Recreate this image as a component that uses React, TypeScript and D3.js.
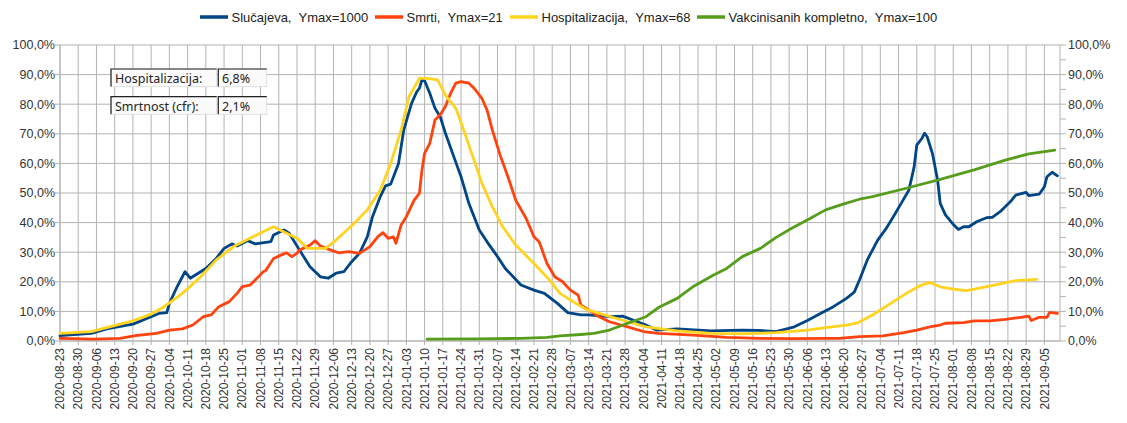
import React from "react";
import * as d3 from "d3";

// ---- data (day offset from 2020-08-23, value in % of Ymax) ----
const START = new Date(Date.UTC(2020, 7, 23));
const TOTAL_DAYS = 384;
const LAST_TICK = new Date(Date.UTC(2021, 8, 5));

const seriesNames = [
  "Slučajeva,  Ymax=1000",
  "Smrti,  Ymax=21",
  "Hospitalizacija,  Ymax=68",
  "Vakcinisanih kompletno,  Ymax=100",
];
const seriesColors = ["#004586", "#ff420e", "#ffd320", "#579d1c"];

const cases: [number, number][] = [
  [0, 1.8], [12, 2.6], [19, 4.3], [28, 5.7], [35, 8.2], [38, 9.3], [41, 9.6], [42, 12.7],
  [45, 18.4], [48, 23.4], [50, 21.2], [54, 23.4], [56, 24.5], [60, 27.9], [63, 31.3],
  [66, 32.8], [68, 32.1], [72, 33.9], [75, 32.8], [81, 33.6], [82, 35.8], [86, 37.5],
  [88, 36.4], [92, 30.7], [96, 25.1], [100, 21.7], [103, 21.2], [106, 22.9], [109, 23.4],
  [112, 26.8], [115, 29.6], [118, 35.2], [120, 42.0], [123, 48.8], [125, 52.4], [127, 53.0],
  [130, 60.0], [132, 71.3], [135, 80.3], [137, 84.2], [138, 85.4], [139, 88.2], [140, 87.9],
  [142, 83.7], [144, 78.6], [146, 75.8], [148, 70.2], [151, 62.8], [154, 55.5], [157, 46.5],
  [161, 37.5], [164, 33.5], [168, 28.5], [171, 24.5], [177, 18.9], [182, 17.2], [186, 16.1],
  [191, 12.7], [195, 9.6], [200, 8.8], [203, 8.8], [211, 8.2], [216, 8.4], [220, 7.1],
  [225, 5.4], [229, 3.7], [237, 4.1], [250, 3.4], [262, 3.7], [268, 3.6], [275, 3.2],
  [282, 4.8], [287, 6.9], [292, 9.3], [297, 11.6], [302, 14.4], [305, 16.5], [307, 20.6],
  [310, 27.4], [314, 34.1], [317, 37.7], [320, 42.0], [323, 46.5], [326, 51.0], [328, 58.9],
  [329, 66.2], [331, 68.5], [332, 70.2], [333, 69.0], [335, 63.4], [337, 54.4], [338, 46.5],
  [340, 42.6], [343, 39.4], [345, 37.7], [347, 38.6], [349, 38.6], [352, 40.3], [356, 41.7],
  [358, 41.8], [361, 43.7], [365, 47.1], [367, 49.3], [371, 50.2], [372, 49.1], [376, 49.6],
  [378, 52.1], [379, 55.5], [381, 57.0], [383, 55.8],
];

const deaths: [number, number][] = [
  [0, 0.9], [13, 0.6], [23, 0.9], [29, 1.8], [37, 2.6], [42, 3.7], [47, 4.1], [51, 5.4],
  [55, 8.2], [58, 8.8], [61, 11.6], [65, 13.3], [68, 16.1], [70, 18.4], [73, 18.9],
  [76, 21.5], [78, 23.4], [79, 23.8], [82, 27.9], [85, 29.1], [87, 29.8], [89, 28.5],
  [91, 29.6], [92, 30.7], [96, 32.4], [98, 33.9], [100, 32.1], [104, 30.7], [107, 29.8],
  [111, 30.2], [115, 29.6], [119, 31.9], [122, 35.2], [124, 36.6], [126, 34.7], [128, 35.2],
  [129, 33.0], [131, 39.2], [133, 42.0], [136, 47.6], [138, 49.9], [139, 57.8], [140, 63.4],
  [142, 66.8], [144, 74.7], [146, 76.4], [148, 79.2], [150, 83.7], [152, 87.1], [154, 87.6],
  [157, 87.1], [159, 85.4], [162, 82.0], [164, 78.0], [166, 71.3], [169, 62.8], [172, 55.5],
  [175, 47.6], [179, 41.4], [182, 35.2], [184, 33.5], [187, 26.2], [190, 21.7], [193, 20.0],
  [196, 17.2], [199, 15.5], [200, 12.2], [203, 10.5], [207, 8.2], [211, 6.5], [218, 4.8],
  [224, 3.2], [230, 2.6], [243, 2.0], [256, 1.2], [269, 0.9], [281, 0.8], [294, 0.9],
  [299, 0.9], [307, 1.5], [316, 1.7], [324, 2.8], [329, 3.7], [334, 4.8], [338, 5.4],
  [340, 6.0], [347, 6.2], [351, 6.8], [357, 6.8], [363, 7.3], [369, 8.0], [372, 8.4],
  [373, 6.9], [376, 8.0], [379, 8.0], [380, 9.7], [383, 9.3],
];

const hospital: [number, number][] = [
  [0, 2.6], [12, 3.2], [19, 4.8], [28, 6.8], [35, 9.1], [40, 11.6], [47, 16.1], [54, 21.7],
  [60, 27.4], [67, 32.1], [73, 34.7], [78, 36.9], [82, 38.6], [87, 36.4], [91, 34.7],
  [95, 31.3], [102, 31.3], [106, 34.1], [113, 39.8], [118, 44.3], [123, 51.0], [127, 60.0],
  [131, 71.3], [134, 82.5], [138, 88.7], [141, 88.7], [145, 88.2], [148, 83.1], [152, 78.6],
  [155, 71.3], [159, 61.1], [162, 53.3], [166, 45.4], [170, 38.6], [175, 32.4], [182, 26.2],
  [188, 20.6], [192, 16.1], [197, 13.3], [202, 10.7], [209, 8.8], [218, 6.5], [225, 4.8],
  [237, 3.4], [250, 2.6], [262, 2.4], [275, 2.8], [287, 3.7], [294, 4.5], [302, 5.4],
  [306, 6.0], [312, 8.8], [319, 12.7], [325, 16.1], [330, 18.6], [334, 19.8], [338, 18.3],
  [343, 17.5], [348, 17.0], [354, 18.0], [361, 19.3], [367, 20.4], [375, 20.8],
];

const vaccinated: [number, number][] = [
  [141, 0.6], [161, 0.7], [177, 0.9], [187, 1.2], [192, 1.7], [200, 2.2], [205, 2.6],
  [211, 3.7], [218, 6.0], [225, 8.2], [230, 11.4], [237, 14.4], [243, 18.3], [251, 22.3],
  [256, 24.5], [262, 28.5], [269, 31.3], [275, 35.0], [281, 38.1], [288, 41.4], [294, 44.3],
  [301, 46.3], [307, 47.9], [312, 48.8], [325, 51.6], [338, 54.6], [351, 57.8], [363, 61.1],
  [372, 63.2], [382, 64.5],
];

const allSeries = [cases, deaths, hospital, vaccinated];

const yTicks = [0, 10, 20, 30, 40, 50, 60, 70, 80, 90, 100];
const yMinorTicks = d3.range(0, 101, 5);

const infoRows: [string, string][] = [
  ["Hospitalizacija:", "6,8%"],
  ["Smrtnost (cfr):", "2,1%"],
];

// ---- layout ----
const W = 1127;
const H = 423;
const L = 60;
const R = 1060;
const T = 45;
const B = 341;
const legendX = [200, 375, 510, 697];

export default function App() {
  const end = d3.utcDay.offset(START, TOTAL_DAYS);
  const x = d3.scaleUtc().domain([START, end]).range([L, R]);
  const y = d3.scaleLinear().domain([0, 100]).range([B, T]);
  const weeks = d3.utcWeek.range(START, d3.utcDay.offset(LAST_TICK, 1));
  const fmt = d3.utcFormat("%Y-%m-%d");
  const line = d3
    .line<[number, number]>()
    .x((d) => x(d3.utcDay.offset(START, d[0])))
    .y((d) => y(d[1]));
  const pctFmt = (v: number) => v.toFixed(1).replace(".", ",") + "%";
  const grid = "#b3b3b3";
  const font = "'Liberation Sans', Arial, sans-serif";

  return (
    <svg
      width={W}
      height={H}
      style={{ position: "absolute", left: 0, top: 0, background: "#fff" }}
      fontFamily={font}
    >
      <rect x={0} y={0} width={W} height={H} fill="#fff" />
      {/* horizontal gridlines */}
      {yTicks.map((t) => (
        <line key={"h" + t} x1={L} x2={R} y1={y(t)} y2={y(t)} stroke={grid} strokeWidth={1} />
      ))}
      {/* vertical gridlines */}
      {weeks.map((d, i) => (
        <line key={"v" + i} x1={x(d)} x2={x(d)} y1={T} y2={B + 4} stroke={grid} strokeWidth={1} />
      ))}
      {/* axes */}
      <line x1={L} x2={L} y1={T} y2={B} stroke={grid} />
      <line x1={R} x2={R} y1={T} y2={B} stroke={grid} />
      <line x1={L} x2={R} y1={B} y2={B} stroke={grid} />
      {yTicks.map((t) => (
        <line key={"lt" + t} x1={L - 5} x2={L} y1={y(t)} y2={y(t)} stroke={grid} />
      ))}
      {yMinorTicks.map((t) => (
        <line key={"rt" + t} x1={R} x2={R + 6} y1={y(t)} y2={y(t)} stroke={grid} />
      ))}
      {/* y labels */}
      {yTicks.map((t) => (
        <text key={"ly" + t} x={55} y={y(t)} dy="0.35em" textAnchor="end" fontSize={12.5} fill="#333">
          {pctFmt(t)}
        </text>
      ))}
      {yTicks.map((t) => (
        <text key={"ry" + t} x={1068} y={y(t)} dy="0.35em" textAnchor="start" fontSize={12.5} fill="#333">
          {pctFmt(t)}
        </text>
      ))}
      {/* x labels */}
      {weeks.map((d, i) => (
        <text
          key={"xl" + i}
          transform={`translate(${x(d)},${B + 7}) rotate(-90)`}
          dy="0.35em"
          textAnchor="end"
          fontSize={12}
          fill="#333"
        >
          {fmt(d)}
        </text>
      ))}
      {/* series */}
      {allSeries.map((s, i) => (
        <path
          key={"s" + i}
          d={line(s) || ""}
          fill="none"
          stroke={seriesColors[i]}
          strokeWidth={2.8}
          strokeLinejoin="round"
          strokeLinecap="round"
        />
      ))}
      {/* info boxes */}
      {infoRows.map((r, i) => {
        const top = 69 + i * 27.7;
        const h = 17.6;
        return (
          <g key={"ib" + i} fontFamily="'Noto Sans', 'Open Sans', sans-serif" fontSize={12.5} fill="#222">
            <rect x={111} y={top} width={105.7} height={h} fill="#fbfbfb" stroke="#e0e0e0" />
            <polyline points={`${111},${top + h} ${111},${top} ${216.7},${top}`} fill="none" stroke="#222" strokeWidth={1.2} />
            <rect x={218.3} y={top} width={48.4} height={h} fill="#fbfbfb" stroke="#e0e0e0" />
            <polyline points={`${218.3},${top + h} ${218.3},${top} ${266.7},${top}`} fill="none" stroke="#222" strokeWidth={1.2} />
            <text x={115} y={top + 14}>{r[0]}</text>
            <text x={222} y={top + 14}>{r[1]}</text>
          </g>
        );
      })}
      {/* legend */}
      {seriesNames.map((n, i) => (
        <g key={"lg" + i}>
          <line x1={legendX[i]} x2={legendX[i] + 28} y1={17} y2={17} stroke={seriesColors[i]} strokeWidth={3.5} />
          <text x={legendX[i] + 31.5} y={17} dy="0.35em" fontSize={13} fill="#222" style={{ whiteSpace: "pre" }}>
            {n}
          </text>
        </g>
      ))}
    </svg>
  );
}
